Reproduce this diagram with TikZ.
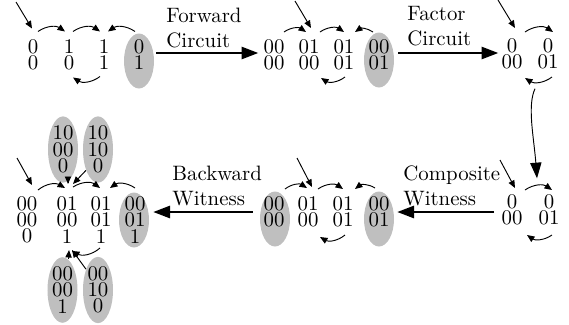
\documentclass[tikz,border=0pt]{standalone}
\usetikzlibrary{arrows.meta,calc,shapes.geometric}
\begin{document}
\begin{tikzpicture}[x=0.48pt,y=-0.48pt,
  dig/.style={inner sep=0pt, align=center, font=\fontsize{10}{7.8}\selectfont},
  hl/.style={ellipse, fill=black!25, inner sep=0pt, minimum width=14.4pt, minimum height=26.4pt},
  lbl/.style={align=left, anchor=west, inner sep=0pt, font=\fontsize{10}{12}\selectfont},
  sm/.style={-{Triangle[length=3.6pt,width=3pt]}, line width=0.45pt},
  big/.style={-{Triangle[length=8pt,width=6pt]}, line width=0.6pt},
  curvy/.style={-{Triangle[length=7.5pt,width=5.4pt]}, line width=0.45pt}]
\useasboundingbox (0,0) rectangle (569,324);

% ---- highlighted states (drawn first, behind the digits)
\node[hl] (a4e) at (139,61) {};
\node[hl] (b4e) at (379,60) {};
\node[hl] (f1e) at (275,219) {};
\node[hl] (f4e) at (379,219) {};
\node[hl] (c4e) at (134,220) {};

% ---- state graph: one bit
\node[dig] (a1) at (33,54.5) {0\\0};
\node[dig] (a2) at (69,54.5) {1\\0};
\node[dig] (a3) at (104,54.5) {1\\1};
\node[dig] (a4) at (139,54.5) {0\\1};

% ---- state graph after the forward circuit
\node[dig] (b1) at (274,55) {00\\00};
\node[dig] (b2) at (309,55) {01\\00};
\node[dig] (b3) at (344,55) {01\\01};
\node[dig] (b4) at (379,55) {00\\01};

% ---- factored graph
\node[dig] (d1) at (512,54) {0\\00};
\node[dig] (d2) at (548,54) {0\\01};

% ---- composite witness
\node[dig] (e1) at (512,210) {0\\00};
\node[dig] (e2) at (549,210) {0\\01};

% ---- witness on the forward graph
\node[dig] (f1) at (274,212) {00\\00};
\node[dig] (f2) at (308,212) {01\\00};
\node[dig] (f3) at (343,212) {01\\01};
\node[dig] (f4) at (379,212) {00\\01};

% ---- backward witness
\node[dig] (c1) at (27,220) {00\\00\\0};
\node[dig] (c2) at (67,220) {01\\00\\1};
\node[dig] (c3) at (101,220) {01\\01\\1};
\node[dig] (c4) at (135,220) {00\\01\\1};
\node[hl,dig] (t1) at (63,149.5) {10\\00\\0};
\node[hl,dig] (t2) at (98,149.5) {10\\10\\0};
\node[hl,dig] (u1) at (62.5,290) {00\\00\\1};
\node[hl,dig] (u2) at (98,290) {00\\10\\0};

% ---- labels
\node[lbl] (lf) at (166,27.5) {Forward\\Circuit};
\node[lbl] (lc) at (407,26.5) {Factor\\Circuit};
\node[lbl] (lb) at (172,185.5) {Backward\\Witness};
\node[lbl] (lw) at (403,186) {Composite\\Witness};

% ---- main steps
\draw[big] ([shift={(2,-8)}]a4e.east) -- ([shift={(-5,-2)}]b1.west);
\draw[big] ([shift={(4,-7)}]b4e.east) -- ([shift={(-3,-1)}]d1.west);
\draw[curvy] ([shift={(-13,19)}]d2.south) .. controls +(-8,17) and +(-3,-40) .. ([shift={(-12,-16)}]e2.north);
\draw[big] ([shift={(-7,2)}]e1.west) -- ([shift={(3,-7)}]f4e.east);
\draw[big] ([shift={(-7,-7)}]f1e.west) -- ([shift={(4,-8)}]c4e.east);

% ---- transitions, one bit
\coordinate (a0) at (16,2);
\draw[sm] (a0) -- ([shift={(-1,-26)}]a1.center);
\draw[sm] ([shift={(5,-23)}]a1.center) to[bend left=35] ([shift={(-4,-23)}]a2.center);
\draw[sm] ([shift={(4,-23)}]a2.center) to[bend left=35] ([shift={(-4,-23)}]a3.center);
\draw[sm] ([shift={(-4,-23)}]a4.center) to[bend right=35] ([shift={(4,-23)}]a3.center);
\draw[sm] ([shift={(-4,22)}]a3.center) to[bend left=35] ([shift={(4,23)}]a2.center);

% ---- transitions after the forward circuit
\coordinate (b0) at (295,1);
\draw[sm] (b0) -- ([shift={(2,-27)}]b2.center);
\draw[sm] ([shift={(10,-23)}]b1.center) to[bend left=35] ([shift={(-3,-23)}]b2.center);
\draw[sm] ([shift={(11,-23)}]b2.center) to[bend left=35] ([shift={(0,-23)}]b3.center);
\draw[sm] ([shift={(-6,-23)}]b4.center) to[bend right=35] ([shift={(11,-23)}]b3.center);
\draw[sm] ([shift={(1,22)}]b3.center) to[bend left=35] ([shift={(12,23)}]b2.center);

% ---- factored transitions
\coordinate (d0) at (498,0);
\draw[sm] (d0) -- ([shift={(3,-26)}]d1.center);
\draw[sm] ([shift={(13,-22)}]d1.center) to[bend left=35] ([shift={(5,-22)}]d2.center);
\draw[sm] ([shift={(4,23)}]d2.center) to[bend left=35] ([shift={(13,24)}]d1.center);

% ---- composite witness transitions
\coordinate (e0) at (500,160);
\draw[sm] (e0) -- ([shift={(3,-22)}]e1.center);
\draw[sm] ([shift={(13,-20)}]e1.center) to[bend left=35] ([shift={(3,-20)}]e2.center);
\draw[sm] ([shift={(3,25)}]e2.center) to[bend left=35] ([shift={(15,25)}]e1.center);

% ---- witness transitions on the forward graph
\coordinate (f0) at (297,158);
\draw[sm] (f0) -- ([shift={(4,-25)}]f2.center);
\draw[sm] ([shift={(11,-23)}]f1.center) to[bend left=35] ([shift={(-1,-24)}]f2.center);
\draw[sm] ([shift={(10,-23)}]f2.center) to[bend left=35] ([shift={(0,-23)}]f3.center);
\draw[sm] ([shift={(-4,-24)}]f4.center) to[bend right=35] ([shift={(12,-23)}]f3.center);
\draw[sm] ([shift={(2,23)}]f3.center) to[bend left=35] ([shift={(12,25)}]f2.center);

% ---- backward witness transitions
\coordinate (c0) at (17,158);
\draw[sm] (c0) -- ([shift={(5,-35)}]c1.center);
\draw[sm] ([shift={(11,-30)}]c1.center) to[bend left=35] ([shift={(-2,-32)}]c2.center);
\draw[sm] ([shift={(6,-33)}]c2.center) to[bend left=35] ([shift={(-1,-32)}]c3.center);
\draw[sm] ([shift={(0,-32)}]c4.center) to[bend right=35] ([shift={(9,-32)}]c3.center);
\draw[sm] ([shift={(-1,28)}]c3.center) to[bend left=35] ([shift={(5,31)}]c2.center);
\draw[sm] ([shift={(5,0)}]t1.south) -- ([shift={(1,-36)}]c2.center);
\draw[sm] (t2.240) -- ([shift={(6,-36)}]c2.center);
\draw[sm] ([shift={(6,2)}]u1.north) -- ([shift={(2,30)}]c2.center);
\draw[sm] (u2.120) -- ([shift={(5,30)}]c2.center);
\end{tikzpicture}
\end{document}
